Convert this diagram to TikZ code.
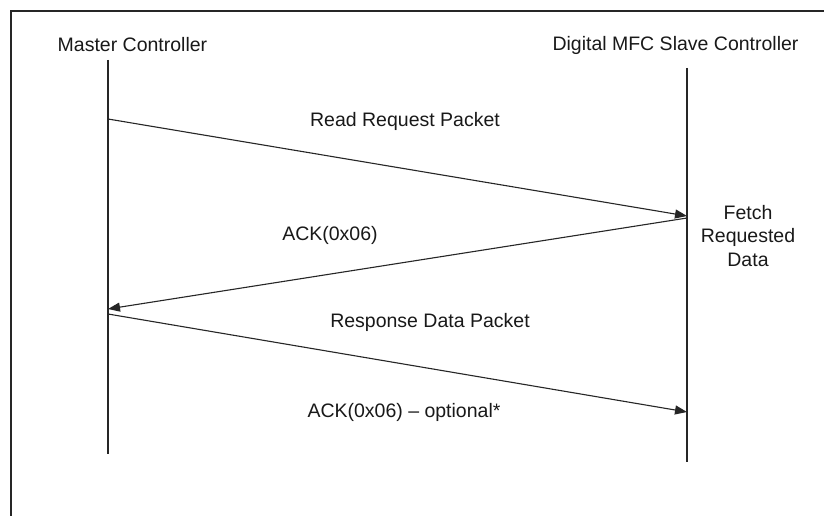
\documentclass[tikz,border=0pt]{standalone}
\usepackage{fontspec}
\setmainfont{Liberation Sans}
\usetikzlibrary{arrows.meta}
\begin{document}
\begin{tikzpicture}[x=1pt,y=-1pt,
  lbl/.style={font=\fontsize{19.5}{23.5}\selectfont, inner sep=0pt, text=black!90},
  life/.style={line width=1.1pt, black!85},
  msg/.style={line width=1.1pt, black!85, -{Triangle[length=12pt,width=9pt]}},
  frameline/.style={line width=2pt, black!85}]
\useasboundingbox (0,0) rectangle (824,516);
\fill[white] (0,0) rectangle (824,516);
% frame
\coordinate (f1) at (11,516);
\coordinate (f2) at (11,11);
\coordinate (f3) at (824,11);
\draw[frameline] (f1) -- (f2) -- (f3);
% titles
\node[lbl] (mc) at (132.5,45) {Master Controller};
\node[lbl] (sc) at (675.5,45) {Digital MFC Slave Controller};
% lifelines
\coordinate (Mtop) at (108,60);
\coordinate (Mbot) at (108,454);
\coordinate (Stop) at (687,68);
\coordinate (Sbot) at (687,462);
\draw[life] (Mtop) -- (Mbot);
\draw[life] (Stop) -- (Sbot);
% message points
\coordinate (m1s) at (108,119);
\coordinate (m1e) at (687,216);
\coordinate (m2s) at (687,218);
\coordinate (m2e) at (108,309);
\coordinate (m3s) at (108,314);
\coordinate (m3e) at (687,412);
\draw[msg] (m1s) -- (m1e);
\draw[msg] (m2s) -- (m2e);
\draw[msg] (m3s) -- (m3e);
% labels
\node[lbl] (l1) at (405,121) {Read Request Packet};
\node[lbl] (l2) at (330,235) {ACK(0x06)};
\node[lbl] (l3) at (430,322) {Response Data Packet};
\node[lbl] (l4) at (404,412) {ACK(0x06) – optional*};
\node[lbl, align=center] (fetch) at (748,236) {Fetch\\Requested\\Data};
\end{tikzpicture}
\end{document}
